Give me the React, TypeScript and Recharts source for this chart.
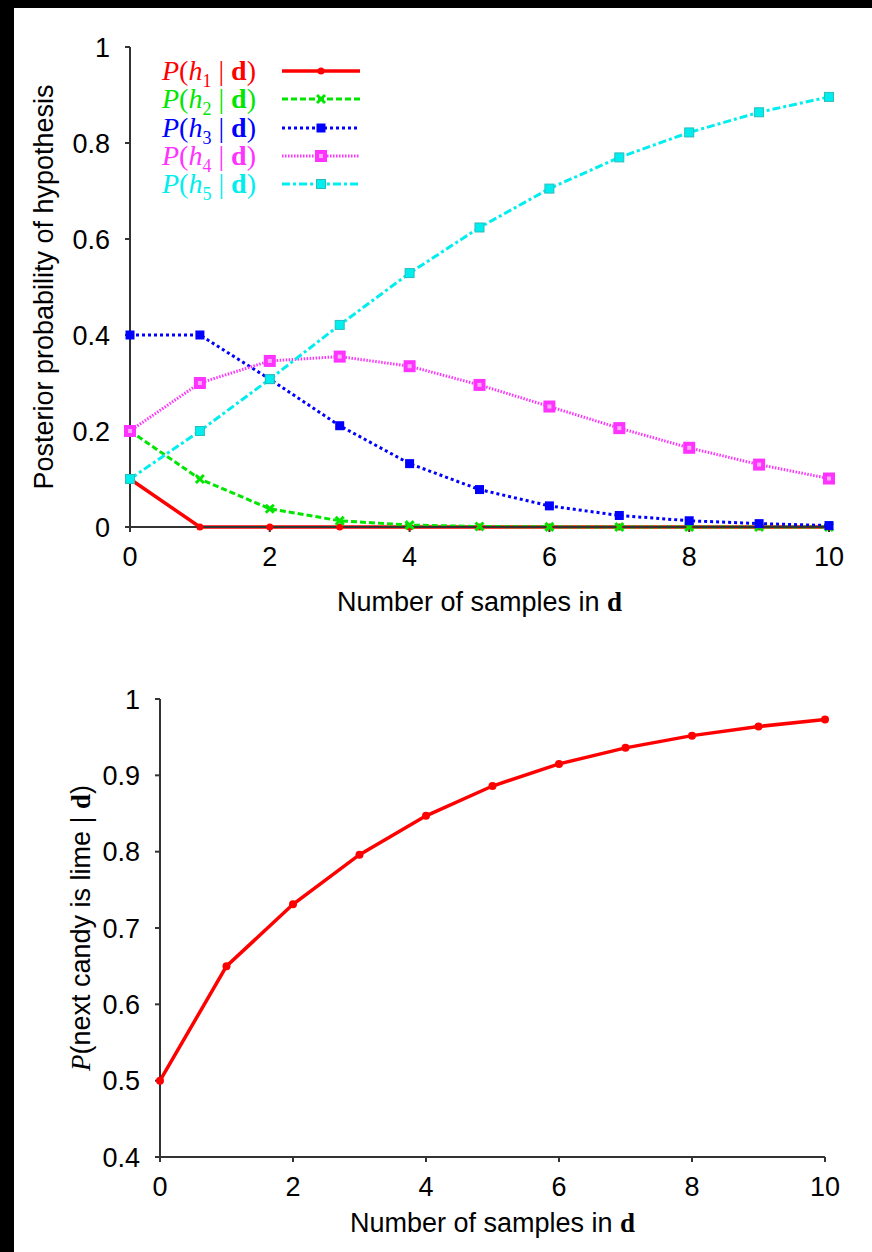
import React from 'react';
import { LineChart, Line, XAxis, YAxis, Legend, Label } from 'recharts';

const samples = [0, 1, 2, 3, 4, 5, 6, 7, 8, 9, 10];
const h1 = [0.1, 0, 0, 0, 0, 0, 0, 0, 0, 0, 0];
const h2 = [0.2, 0.1, 0.038, 0.013, 0.004, 0.001, 0.0003, 0.0001, 0, 0, 0];
const h3 = [0.4, 0.4, 0.308, 0.211, 0.132, 0.078, 0.044, 0.024, 0.013, 0.007, 0.003];
const h4 = [0.2, 0.3, 0.346, 0.355, 0.335, 0.296, 0.251, 0.206, 0.165, 0.13, 0.101];
const h5 = [0.1, 0.2, 0.308, 0.421, 0.529, 0.624, 0.705, 0.77, 0.822, 0.864, 0.896];
const lime = [0.5, 0.65, 0.731, 0.796, 0.847, 0.886, 0.915, 0.936, 0.952, 0.964, 0.973];

const xTicks = [0, 2, 4, 6, 8, 10];
const topYTicks = [0, 0.2, 0.4, 0.6, 0.8, 1];
const bottomYTicks = [0.4, 0.5, 0.6, 0.7, 0.8, 0.9, 1];

const posterior = samples.map((n, i) => ({ n, h1: h1[i], h2: h2[i], h3: h3[i], h4: h4[i], h5: h5[i] }));
const nextLime = samples.map((n, i) => ({ n, lime: lime[i] }));

const SANS = '"Liberation Sans", Arial, sans-serif';
const SERIF = '"Liberation Serif", "Times New Roman", serif';
const AXIS = '#333';

// marker shapes, shared by the lines and the legend
const marker = (kind: string, color: string, cx: number, cy: number, key?: any) => {
  if (kind === 'dot') return <circle key={key} cx={cx} cy={cy} r={3.5} fill={color} />;
  if (kind === 'x')
    return (
      <g key={key} stroke={color} strokeWidth={3}>
        <line x1={cx - 4} y1={cy - 4} x2={cx + 4} y2={cy + 4} />
        <line x1={cx - 4} y1={cy + 4} x2={cx + 4} y2={cy - 4} />
      </g>
    );
  if (kind === 'sq') return <rect key={key} x={cx - 4.5} y={cy - 4.5} width={9} height={9} fill={color} />;
  if (kind === 'hollow')
    return (
      <g key={key}>
        <rect x={cx - 6} y={cy - 6} width={12} height={12} fill={color} />
        <rect x={cx - 2} y={cy - 2} width={4} height={4} fill="#ffaaff" />
      </g>
    );
  return <rect key={key} x={cx - 4.5} y={cy - 4.5} width={9} height={9} fill={color} stroke="#2bbcbc" strokeWidth={1} />;
};

const series = [
  { key: 'h1', sub: '1', color: '#ff0000', dash: undefined, kind: 'dot', w: 3.5 },
  { key: 'h2', sub: '2', color: '#00e600', dash: '6 3', kind: 'x', w: 3 },
  { key: 'h3', sub: '3', color: '#0000ff', dash: '3 3', kind: 'sq', w: 3 },
  { key: 'h4', sub: '4', color: '#ff33ff', dash: '1.5 1.5', kind: 'hollow', w: 3 },
  { key: 'h5', sub: '5', color: '#00eeee', dash: '8 3 3 3', kind: 'cyan', w: 3 },
];

const LegendRows = () => (
  <div style={{ width: 220 }}>
    {series.map((s) => (
      <div key={s.key} style={{ height: 28.3, display: 'flex', alignItems: 'center', color: s.color, fontFamily: SERIF, fontSize: 28, lineHeight: 1 }}>
        <span style={{ width: 120, whiteSpace: 'nowrap' }}>
          <i>P</i>(<i>h</i>
          <span style={{ fontSize: 18, position: 'relative', top: 7 }}>{s.sub}</span> | <b>d</b>)
        </span>
        <svg width={80} height={20} style={{ overflow: 'visible' }}>
          <line x1={0} y1={10} x2={78} y2={10} stroke={s.color} strokeWidth={s.w} strokeDasharray={s.dash} />
          {marker(s.kind, s.color, 39, 10)}
        </svg>
      </div>
    ))}
  </div>
);

const xTitle = (offset: number) => (props: any) => {
  const vb = props.viewBox;
  return (
    <text x={vb.x + vb.width / 2} y={vb.y + offset} textAnchor="middle" fontSize={27} fontFamily={SANS} fill="#000">
      Number of samples in <tspan fontFamily={SERIF} fontWeight="bold">d</tspan>
    </text>
  );
};

const yTitle = (cx: number, children: React.ReactNode) => (props: any) => {
  const vb = props.viewBox;
  const cy = vb.y + vb.height / 2;
  return (
    <text x={cx} y={cy} transform={`rotate(-90 ${cx} ${cy})`} textAnchor="middle" dominantBaseline="central" fontSize={27} fontFamily={SANS} fill="#000">
      {children}
    </text>
  );
};

const tickStyle = { fill: '#000', fontSize: 27, fontFamily: SANS };

export default function App() {
  return (
    <div style={{ position: 'absolute', left: 0, top: 0, width: 872, height: 1252, background: '#000', overflow: 'hidden' }}>
      <div style={{ position: 'absolute', left: 14, top: 8, right: 0, bottom: 0, background: '#fff' }} />

      <div style={{ position: 'absolute', left: 0, top: 0 }}>
        <LineChart width={872} height={640} data={posterior} margin={{ top: 47, right: 43, bottom: 53, left: 40 }}>
          <XAxis dataKey="n" type="number" domain={[0, 10]} ticks={xTicks} height={60} tick={tickStyle} tickSize={5} tickMargin={15}
            axisLine={{ stroke: AXIS, strokeWidth: 2 }} tickLine={{ stroke: AXIS, strokeWidth: 2 }}>
            <Label content={xTitle(84)} />
          </XAxis>
          <YAxis type="number" domain={[0, 1]} ticks={topYTicks} width={90} tick={tickStyle} tickSize={5} tickMargin={15}
            axisLine={{ stroke: AXIS, strokeWidth: 2 }} tickLine={{ stroke: AXIS, strokeWidth: 2 }}>
            <Label content={yTitle(44, 'Posterior probability of hypothesis')} />
          </YAxis>
          <Legend layout="vertical" align="center" verticalAlign="middle" content={() => <LegendRows />}
            wrapperStyle={{ left: 162, top: 57, width: 220, height: 145 }} />
          {series.map((s) => (
            <Line key={s.key} dataKey={s.key} type="linear" stroke={s.color} strokeWidth={s.w} strokeDasharray={s.dash}
              isAnimationActive={false} dot={(p: any) => marker(s.kind, s.color, p.cx, p.cy, p.index)} activeDot={false} />
          ))}
        </LineChart>
      </div>

      <div style={{ position: 'absolute', left: 0, top: 640 }}>
        <LineChart width={872} height={612} data={nextLime} margin={{ top: 59, right: 47, bottom: 35, left: 70 }}>
          <XAxis dataKey="n" type="number" domain={[0, 10]} ticks={xTicks} height={60} tick={tickStyle} tickSize={5} tickMargin={15}
            axisLine={{ stroke: AXIS, strokeWidth: 2 }} tickLine={{ stroke: AXIS, strokeWidth: 2 }}>
            <Label content={xTitle(75)} />
          </XAxis>
          <YAxis type="number" domain={[0.4, 1]} ticks={bottomYTicks} width={90} tick={tickStyle} tickSize={5} tickMargin={15}
            axisLine={{ stroke: AXIS, strokeWidth: 2 }} tickLine={{ stroke: AXIS, strokeWidth: 2 }}>
            <Label content={yTitle(81, <>
              <tspan fontFamily={SERIF} fontStyle="italic">P</tspan>(next candy is lime | <tspan fontFamily={SERIF} fontWeight="bold">d</tspan>)
            </>)} />
          </YAxis>
          <Line dataKey="lime" type="linear" stroke="#ff0000" strokeWidth={3.5} isAnimationActive={false}
            dot={(p: any) => <circle key={p.index} cx={p.cx} cy={p.cy} r={4} fill="#ff0000" />} activeDot={false} />
        </LineChart>
      </div>
    </div>
  );
}
